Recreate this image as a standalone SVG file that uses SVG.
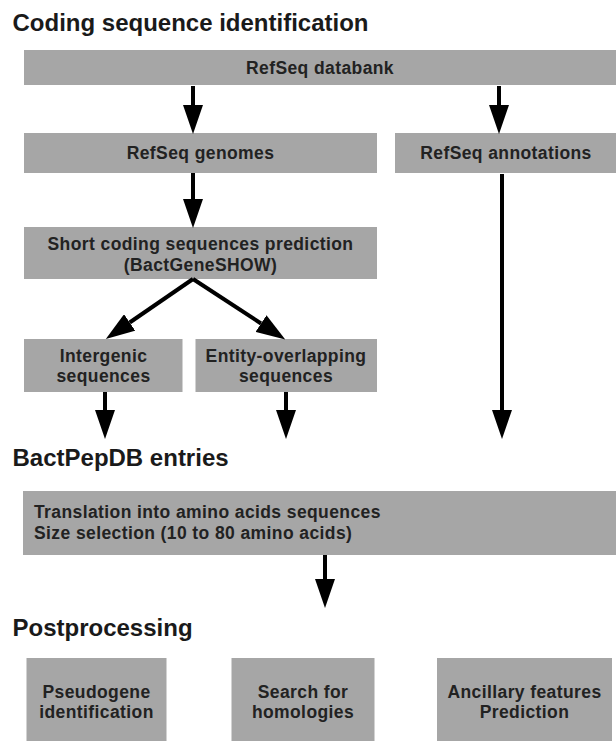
<svg xmlns="http://www.w3.org/2000/svg" width="616" height="741" viewBox="0 0 616 741">
<defs>
<style>
.box{fill:#a6a6a6}
.t{font-family:"Liberation Sans",Arial,sans-serif;font-weight:bold;font-size:17.5px;letter-spacing:0.4px;fill:#222}
.c{text-anchor:middle}
.h{font-family:"Liberation Sans",Arial,sans-serif;font-weight:bold;font-size:24px;fill:#1a1a1a}
.a{stroke:#000;stroke-width:4;fill:none;marker-end:url(#ah)}
</style>
<marker id="ah" markerUnits="userSpaceOnUse" markerWidth="29" markerHeight="20" refX="0" refY="10" orient="auto" viewBox="0 0 29 20">
<path d="M0,0 L29,10 L0,20 Z" fill="#000"/>
</marker>
</defs>
<text class="h" x="12.5" y="31">Coding sequence identification</text>
<text class="h" x="12.5" y="465.5">BactPepDB entries</text>
<text class="h" x="12.5" y="635.5">Postprocessing</text>

<g id="databank"><rect class="box" x="24" y="50" width="592" height="35"/><text class="t c" x="320" y="73.5">RefSeq databank</text></g>
<g id="genomes"><rect class="box" x="24" y="133" width="353" height="40"/><text class="t c" x="200.5" y="159">RefSeq genomes</text></g>
<g id="annotations"><rect class="box" x="395" y="133" width="221" height="40"/><text class="t c" x="506" y="159">RefSeq annotations</text></g>
<g id="shortcoding"><rect class="box" x="24" y="227" width="353" height="52"/><text class="t c" x="200.5" y="250">Short coding sequences prediction</text><text class="t c" x="200.5" y="270.5">(BactGeneSHOW)</text></g>
<g id="intergenic"><rect class="box" x="24" y="339" width="158.5" height="53"/><text class="t c" x="103.5" y="361.5">Intergenic</text><text class="t c" x="103.5" y="381.5">sequences</text></g>
<g id="entity"><rect class="box" x="195.5" y="339" width="181.5" height="53"/><text class="t c" x="286" y="361.5">Entity-overlapping</text><text class="t c" x="286" y="381.5">sequences</text></g>
<g id="translation"><rect class="box" x="23" y="491" width="593" height="64"/><text class="t" x="34" y="518">Translation into amino acids sequences</text><text class="t" x="34" y="539">Size selection (10 to 80 amino acids)</text></g>
<g id="pseudogene"><rect class="box" x="26.5" y="658" width="140" height="83"/><text class="t c" x="96.5" y="698">Pseudogene</text><text class="t c" x="96.5" y="718">identification</text></g>
<g id="homologies"><rect class="box" x="231.5" y="658" width="143" height="83"/><text class="t c" x="303" y="698">Search for</text><text class="t c" x="303" y="718">homologies</text></g>
<g id="ancillary"><rect class="box" x="437" y="658" width="175" height="83"/><text class="t c" x="524.5" y="698">Ancillary features</text><text class="t c" x="524.5" y="718">Prediction</text></g>

<g id="connectors">
<line class="a" x1="193" y1="86" x2="193" y2="105"/>
<line class="a" x1="499" y1="86" x2="499" y2="105"/>
<line class="a" x1="193" y1="173" x2="193" y2="199"/>
<line class="a" x1="193" y1="279" x2="129.7" y2="322.5"/>
<line class="a" x1="193" y1="279" x2="261" y2="323.5"/>
<line class="a" x1="105" y1="392" x2="105" y2="410"/>
<line class="a" x1="286" y1="392" x2="286" y2="410"/>
<line class="a" x1="502" y1="174" x2="502" y2="410"/>
<line class="a" x1="325" y1="555" x2="325" y2="579"/>
</g>
</svg>
